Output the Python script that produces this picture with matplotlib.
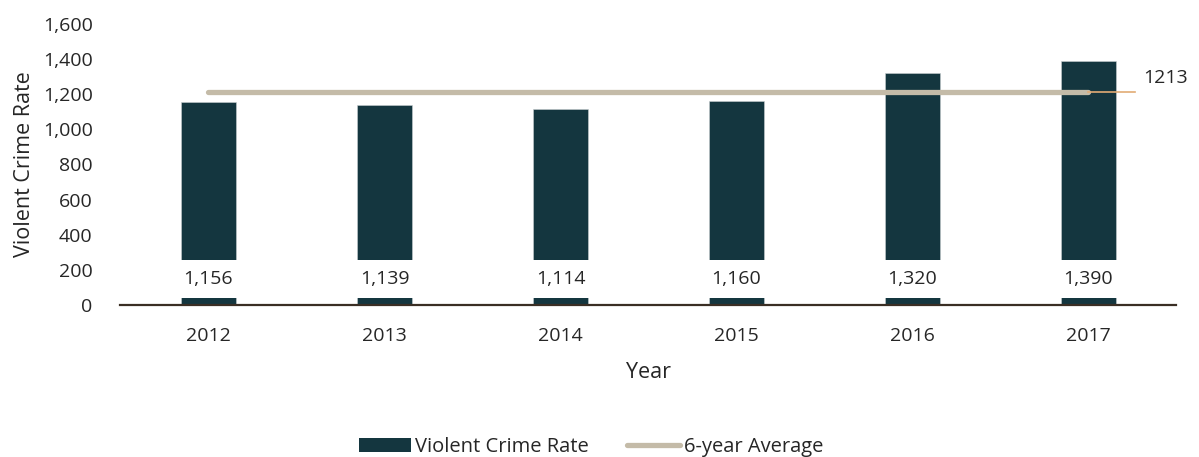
import matplotlib.pyplot as plt
from matplotlib.lines import Line2D
from matplotlib.patches import Patch

# violent crime rate per year
years = ['2012', '2013', '2014', '2015', '2016', '2017']
rates = [1156, 1139, 1114, 1160, 1320, 1390]
average = 1213

bar_color = '#14363f'
avg_color = '#c4bba8'
marker_color = '#e2ab74'
text_color = '#262626'

plt.rcParams['font.family'] = ['Open Sans', 'DejaVu Sans']

fig = plt.figure(figsize=(11.99, 4.57), dpi=100)
ax = fig.add_axes([0.1005, 0.3326, 0.8807, 0.6149])

x = range(len(years))
ax.bar(x, rates, width=0.31, color=bar_color, edgecolor='#c9cfd1', linewidth=0.4, zorder=2)

# value labels sit in a white box low on each bar
for i, v in enumerate(rates):
    ax.text(i, 146, f'{v:,}', ha='center', va='center', fontsize=14,
            color=text_color, zorder=4,
            bbox=dict(facecolor='white', edgecolor='none', pad=7.2))

# six year average across the bars, with a leader to its label
ax.plot([0, len(years) - 1], [average, average], color=avg_color, lw=3.8,
        solid_capstyle='round', zorder=3)
ax.plot([len(years) - 1, len(years) - 0.735], [average, average],
        color=marker_color, lw=1.2, zorder=3)
ax.text(len(years) - 0.69, average + 80, str(average), ha='left', va='center',
        fontsize=14, color=text_color)

ax.set_xlim(-0.5, len(years) - 0.5)
ax.set_ylim(0, 1600)
ax.set_yticks(range(0, 1601, 200))
ax.set_yticklabels([f'{t:,}' for t in range(0, 1601, 200)])
ax.set_xticks(list(x))
ax.set_xticklabels(years)
ax.tick_params(length=0, labelsize=14, colors=text_color)
ax.tick_params(axis='x', pad=16)
ax.tick_params(axis='y', pad=20)

for side in ['top', 'right', 'left']:
    ax.spines[side].set_visible(False)
ax.spines['bottom'].set_color('#3a2e24')
ax.spines['bottom'].set_linewidth(1.6)
ax.spines['bottom'].set_zorder(5)

ax.set_ylabel('Violent Crime Rate', fontsize=15.5, color=text_color, labelpad=6)
ax.set_xlabel('Year', fontsize=15.5, color=text_color, labelpad=12)

handles = [Patch(facecolor=bar_color, edgecolor='none'),
           Line2D([0], [0], color=avg_color, lw=3.8, solid_capstyle='round')]
fig.legend(handles, ['Violent Crime Rate', '6-year Average'], loc='center',
           bbox_to_anchor=(0.493, 0.022), ncol=2, frameon=False, fontsize=14.5,
           handlelength=2.6, handleheight=0.7, handletextpad=0.2, columnspacing=1.9,
           labelcolor=text_color)

fig.savefig('out.png', dpi=100)
